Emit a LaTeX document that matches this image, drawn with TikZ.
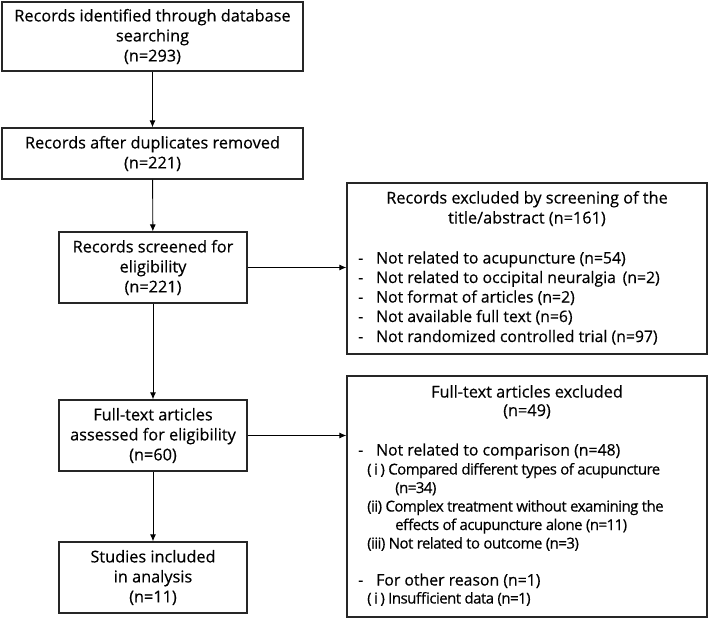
\documentclass[tikz,border=0pt]{standalone}
\usepackage{fontspec}
\setmainfont{Open Sans}[FakeBold=0.4]
\newfontfamily\subfont{Open Sans}[FakeBold=0.4,LetterSpace=-3.5]
\usetikzlibrary{arrows.meta}
\begin{document}
\begin{tikzpicture}[x=1pt,y=-1pt,
  box/.style={draw=black!85,line width=1.3pt,inner sep=0pt,align=center,
    font=\fontsize{16.3}{20}\selectfont},
  conn/.style={draw=black,line width=0.9pt,-{Latex[length=7pt,width=6pt]}},
  txt/.style={inner sep=0pt,font=\fontsize{16.3}{20}\selectfont},
  big/.style={inner sep=0pt,font=\fontsize{15.8}{20}\selectfont},
  sub/.style={inner sep=0pt,font=\subfont\fontsize{15}{18}\selectfont}]
\useasboundingbox (0,0) rectangle (709,618);
% left column
\node[box,minimum width=301pt,minimum height=69pt] (b1) at (152.5,36.5)
  {Records identified through database\\searching\\(n=293)};
\node[box,minimum width=301pt,minimum height=51pt] (b2) at (152.5,153.5)
  {Records after duplicates removed\\(n=221)};
\node[box,minimum width=188pt,minimum height=71pt] (b3) at (153,267.5)
  {Records screened for\\eligibility\\(n=221)};
\node[box,minimum width=188pt,minimum height=71pt] (b4) at (153,435.5)
  {Full-text articles\\assessed for eligibility\\(n=60)};
\node[box,minimum width=188pt,minimum height=71pt] (b5) at (153,577.5)
  {Studies included\\in analysis\\(n=11)};
% right boxes
\node[box,minimum width=360pt,minimum height=171pt] (r1) at (527,268.5) {};
\node[box,minimum width=360pt,minimum height=241pt] (r2) at (527,496.5) {};
% right box 1 text
\node[txt,anchor=base] (r1h1) at (527,203.5) {Records excluded by screening of the};
\node[txt,anchor=base] (r1h2) at (527,223.5) {title/abstract (n=161)};
\foreach \y/\t [count=\i] in {263.5/Not related to acupuncture (n=54),
  283/Not related to occipital neuralgia \,(n=2),
  302.5/Not format of articles (n=2),
  322/Not available full text (n=6),
  342/Not randomized controlled trial (n=97)}{
  \node[big,anchor=base west] (r1d\i) at (358,\y) {-};
  \node[big,anchor=base west] (r1t\i) at (376,\y) {\t};
}
% right box 2 text
\node[txt,anchor=base] (r2h1) at (527,397.5) {Full-text articles excluded};
\node[txt,anchor=base] (r2h2) at (527,416) {(n=49)};
\node[big,anchor=base west] (r2d1) at (358,455.5) {-};
\node[big,anchor=base west] (r2t1) at (376,455.5) {Not related to comparison (n=48)};
\node[sub,anchor=base west] (r2a) at (367,474.5) {(\,i\,) Compared different types of acupuncture};
\node[sub,anchor=base west] (r2b) at (395,493) {(n=34)};
\node[sub,anchor=base west] (r2c) at (367,511.5) {(ii) Complex treatment without examining the};
\node[sub,anchor=base west] (r2d) at (395,530) {effects of acupuncture alone (n=11)};
\node[sub,anchor=base west] (r2e) at (367,548.5) {(iii) Not related to outcome (n=3)};
\node[big,anchor=base west] (r2d2) at (358,585.5) {-};
\node[big,anchor=base west] (r2t2) at (376,585.5) {For other reason (n=1)};
\node[sub,anchor=base west] (r2f) at (367,603.5) {(\,i\,) Insufficient data (n=1)};
% connectors
\draw[conn] (b1) -- (b2);
\draw[conn] (b2) -- (b3);
\draw[conn] (b3) -- (b4);
\draw[conn] (b4) -- (b5);
\draw[conn] (b3.east) -- (b3.east -| r1.west);
\draw[conn] (b4.east) -- (b4.east -| r2.west);
\end{tikzpicture}
\end{document}
